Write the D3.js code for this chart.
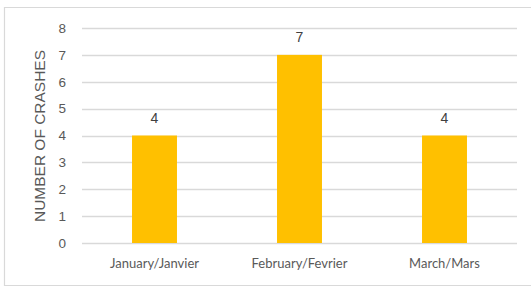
<!DOCTYPE html>
<html>
<head>
<meta charset="utf-8">
<script src="https://cdn.jsdelivr.net/npm/d3@7"></script>
<style>
  body { margin: 0; background: #fff; }
  svg { display: block; }
</style>
</head>
<body>
<div class="chart"></div>
<script>
var months = ["January/Janvier", "February/Fevrier", "March/Mars"];
var crashes = [4, 7, 4];
var yTicks = [0, 1, 2, 3, 4, 5, 6, 7, 8];

var svgWidth = 531;
var svgHeight = 286;
var margin = { top: 28, right: 14, bottom: 43, left: 82 };
var width = svgWidth - margin.left - margin.right;
var height = svgHeight - margin.top - margin.bottom;

var svg = d3.select(".chart")
  .append("svg")
  .attr("width", svgWidth)
  .attr("height", svgHeight);

// chart frame
svg.append("path")
  .attr("d", "M532,7.5 H4.5 V285.5 H532")
  .attr("fill", "none")
  .attr("stroke", "#d9d9d9")
  .attr("stroke-width", 1.2);

var chart = svg.append("g")
  .attr("transform", `translate(${margin.left},${margin.top})`);

var x = d3.scaleBand().domain(months).range([0, width]).paddingInner(0.69).paddingOuter(0.345);
var y = d3.scaleLinear().domain([0, 8]).range([height, 0]);

// gridlines
chart.selectAll(".grid")
  .data(yTicks)
  .enter().append("line")
  .attr("class", "grid")
  .attr("x1", 0)
  .attr("x2", width)
  .attr("y1", function(d) { return Math.round(y(d)) + 0.5; })
  .attr("y2", function(d) { return Math.round(y(d)) + 0.5; })
  .attr("stroke", "#d9d9d9")
  .attr("stroke-width", 1.3);

// y axis labels
var yAxis = d3.axisLeft(y).tickValues(yTicks).tickSize(0).tickPadding(16);
chart.append("g")
  .attr("class", "y axis")
  .call(yAxis)
  .call(function(g) { g.select(".domain").remove(); })
  .selectAll("text")
  .attr("fill", "#595959")
  .style("font-family", "Arial, 'Liberation Sans', sans-serif")
  .style("font-size", "13.5px");

// bars
chart.selectAll(".bar")
  .data(crashes)
  .enter().append("rect")
  .attr("class", "bar")
  .attr("x", function(d, i) { return x(months[i]); })
  .attr("y", function(d) { return y(d); })
  .attr("width", x.bandwidth())
  .attr("height", function(d) { return height - y(d); })
  .attr("fill", "#ffc000");

// data labels
chart.selectAll(".val")
  .data(crashes)
  .enter().append("text")
  .attr("class", "val")
  .attr("x", function(d, i) { return x(months[i]) + x.bandwidth() / 2; })
  .attr("y", function(d) { return y(d) - 13; })
  .attr("text-anchor", "middle")
  .attr("fill", "#404040")
  .style("font-family", "Arial, 'Liberation Sans', sans-serif")
  .style("font-size", "14px")
  .text(function(d) { return d; });

// x axis labels
var xAxis = d3.axisBottom(x).tickSize(0).tickPadding(16);
chart.append("g")
  .attr("class", "x axis")
  .attr("transform", "translate(0," + height + ")")
  .call(xAxis)
  .call(function(g) { g.select(".domain").remove(); })
  .selectAll("text")
  .attr("fill", "#595959")
  .style("font-family", "Lato, sans-serif")
  .style("font-size", "13px");

// y axis title
svg.append("text")
  .attr("transform", "translate(45,136) rotate(-90)")
  .attr("text-anchor", "middle")
  .attr("fill", "#595959")
  .style("font-family", "Arial, 'Liberation Sans', sans-serif")
  .style("font-size", "14.5px")
  .attr("textLength", 172)
  .attr("lengthAdjust", "spacingAndGlyphs")
  .text("NUMBER OF CRASHES");
</script>
</body>
</html>
